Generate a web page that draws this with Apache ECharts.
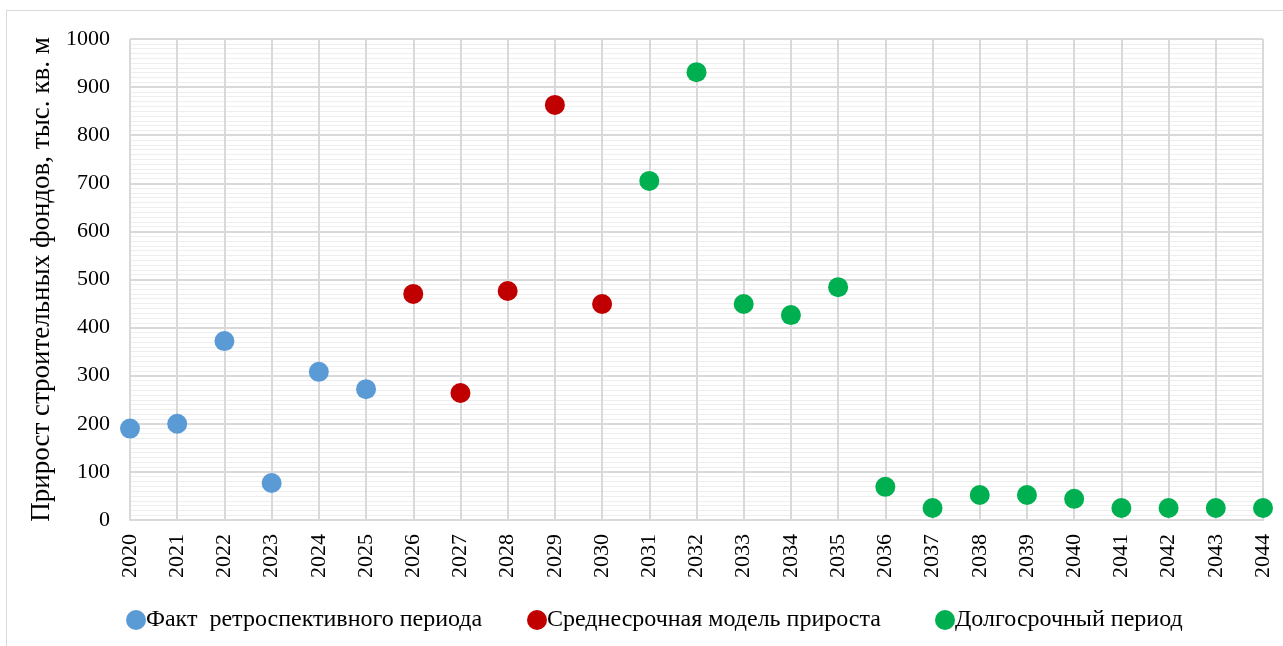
<!DOCTYPE html>
<html>
<head>
<meta charset="utf-8">
<script src="https://cdn.jsdelivr.net/npm/echarts@6/dist/echarts.min.js"></script>
<style>
  html, body { margin: 0; padding: 0; background: #fff; overflow: hidden; }
  #frame { position: absolute; left: 6px; top: 10px; width: 1300px; height: 660px; border: 1px solid #d9d9d9; box-sizing: border-box; }
  #chart { position: absolute; left: 0; top: 0; width: 1283px; height: 646px; }
</style>
</head>
<body>
<div id="frame"></div>
<div id="chart"></div>
<script>
const years = ['2020','2021','2022','2023','2024','2025','2026','2027','2028','2029','2030','2031',
  '2032','2033','2034','2035','2036','2037','2038','2039','2040','2041','2042','2043','2044']

// values by period, in year order
const factYears = ['2020','2021','2022','2023','2024','2025']
const factValues = [190, 200, 372, 77, 308, 272]
const midYears = ['2026','2027','2028','2029','2030']
const midValues = [470, 264, 476, 863, 449]
const longYears = ['2031','2032','2033','2034','2035','2036','2037','2038','2039','2040','2041','2042','2043','2044']
const longValues = [705, 931, 449, 426, 484, 69, 25, 52, 52, 44, 25, 25, 25, 25]

const seriesNames = ['Факт  ретроспективного периода', 'Среднесрочная модель прироста', 'Долгосрочный период']
const colors = ['#5b9bd5', '#c00000', '#00b050']

const font = 'Liberation Serif'
const pairs = (ys, vs) => ys.map((y, i) => [y, vs[i]])

const chart = echarts.init(document.getElementById('chart'))
const mkSeries = (name, data, color) => ({
  name, type: 'scatter', data, symbol: 'circle', symbolSize: 20,
  itemStyle: { color, opacity: 1 }
})
const mkLegend = (name, left) => ({
  data: [name], left, top: 603, icon: 'circle', itemWidth: 20, itemHeight: 20, itemGap: 0,
  textStyle: { fontFamily: font, fontSize: 24, color: '#000', padding: [0, 0, 0, -5] }
})

chart.setOption({
  animation: false,
  grid: { left: 130, right: 20, top: 39, bottom: 126 },
  legend: [
    mkLegend(seriesNames[0], 121),
    mkLegend(seriesNames[1], 522),
    mkLegend(seriesNames[2], 930)
  ],
  xAxis: {
    type: 'category', data: years, boundaryGap: false,
    axisLine: { lineStyle: { color: '#d9d9d9', width: 2 } },
    axisTick: { show: false },
    axisLabel: { rotate: 90, margin: 14, fontFamily: font, fontSize: 22, color: '#000' },
    splitLine: { show: true, lineStyle: { color: '#d9d9d9', width: 2 } }
  },
  yAxis: {
    type: 'value', min: 0, max: 1000, interval: 100,
    name: 'Прирост строительных фондов, тыс. кв. м', nameLocation: 'middle', nameGap: 75,
    nameTextStyle: { fontFamily: font, fontSize: 27, color: '#000' },
    axisLine: { show: false }, axisTick: { show: false },
    axisLabel: { margin: 20, fontFamily: font, fontSize: 22, color: '#000', formatter: v => String(v) },
    splitLine: { lineStyle: { color: '#d9d9d9', width: 2 } },
    minorTick: { show: false, splitNumber: 10 },
    minorSplitLine: { show: true, lineStyle: { color: '#eeeeee', width: 1 } }
  },
  series: [
    mkSeries(seriesNames[0], pairs(factYears, factValues), colors[0]),
    mkSeries(seriesNames[1], pairs(midYears, midValues), colors[1]),
    mkSeries(seriesNames[2], pairs(longYears, longValues), colors[2])
  ]
})
</script>
</body>
</html>
